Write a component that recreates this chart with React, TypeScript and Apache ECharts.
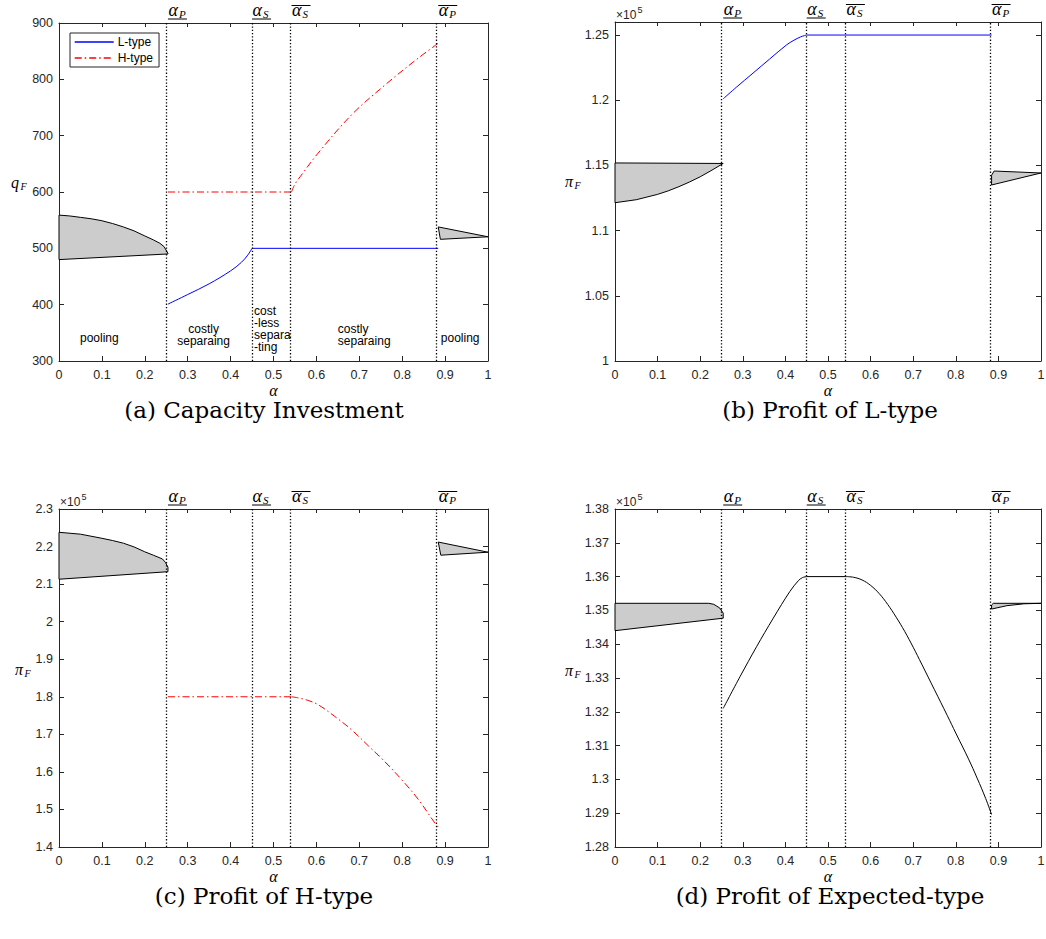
import { useEffect, useRef } from 'react';
import * as echarts from 'echarts';

type Pt = [number, number];

// α thresholds between equilibrium regimes: α_P, α_S, ᾱ_S, ᾱ_P
const alphaBounds = [0.254, 0.45, 0.542, 0.884];
const boundSubscripts = ['P', 'S', 'S', 'P'];
const boundBars = ['under', 'under', 'over', 'over'];

// shared α axis
const alphaMin = 0;
const alphaMax = 1;
const alphaStep = 0.1;

// (a) capacity investment q_F
const capRange = { min: 300, max: 900, step: 100 };
const capPoolLeftUpper: Pt[] = [[0, 559], [0.025, 557.5], [0.05, 555], [0.075, 552.5], [0.1, 549], [0.125, 544], [0.15, 538], [0.175, 531], [0.2, 522], [0.22, 515], [0.235, 509], [0.245, 503], [0.254, 491]];
const capPoolLeftLower: Pt[] = [[0, 480], [0.254, 490]];
const capPoolRightUpper: Pt[] = [[0.884, 538], [1, 520.5]];
const capPoolRightLower: Pt[] = [[0.889, 516], [1, 520.5]];
const capLRise: Pt[] = [[0.254, 401], [0.3, 418], [0.35, 437], [0.4, 460], [0.425, 475], [0.44, 488], [0.45, 500]];
const capLFlat: Pt[] = [[0.45, 500], [0.884, 500]];
const capHFlat: Pt[] = [[0.254, 600], [0.542, 600]];
const capHRise: Pt[] = [[0.542, 600], [0.55, 614], [0.562, 627], [0.604, 669], [0.682, 737], [0.76, 790], [0.838, 838], [0.884, 864]];

// regime notes inside panel (a)
const regimeNotes = ['pooling', 'costly\nseparaing', 'cost\n-less\nsepara\n-ting', 'costly\nseparaing', 'pooling'];
const regimeNoteAt: Pt[] = [[0.049, 340], [0.337, 347], [0.4545, 356], [0.65, 347], [0.89, 340]];
const regimeNoteAlign = ['left', 'center', 'left', 'left', 'left'];

// (b) profit of the L-type
const piLRange = { min: 100000, max: 126000, step: 5000 };
const piLPoolLeftUpper: Pt[] = [[0, 115190], [0.254, 115150]];
const piLPoolLeftLower: Pt[] = [[0, 112140], [0.05, 112370], [0.1, 112780], [0.125, 113050], [0.15, 113370], [0.175, 113730], [0.2, 114130], [0.225, 114590], [0.254, 115150]];
const piLPoolRightUpper: Pt[] = [[0.884, 114250], [0.89, 114570], [1, 114420]];
const piLPoolRightLower: Pt[] = [[0.884, 113500], [1, 114420]];
const piLRise: Pt[] = [[0.254, 120110], [0.285, 121000], [0.324, 122080], [0.363, 123160], [0.403, 124250], [0.42, 124600], [0.435, 124850], [0.445, 124960], [0.45, 125000]];
const piLFlat: Pt[] = [[0.45, 125000], [0.884, 125000]];

// (c) profit of the H-type
const piHRange = { min: 140000, max: 230000, step: 10000 };
const piHPoolLeftUpper: Pt[] = [[0, 223800], [0.05, 223300], [0.1, 222200], [0.125, 221600], [0.15, 220900], [0.175, 219900], [0.2, 218600], [0.22, 217700], [0.241, 216700], [0.248, 215800], [0.254, 214500]];
const piHPoolLeftLower: Pt[] = [[0, 211300], [0.254, 213300]];
const piHPoolRightUpper: Pt[] = [[0.884, 221200], [1, 218500]];
const piHPoolRightLower: Pt[] = [[0.89, 217700], [1, 218500]];
const piHFlat: Pt[] = [[0.254, 180000], [0.542, 180000]];
const piHFall: Pt[] = [[0.542, 180000], [0.558, 179700], [0.58, 179050], [0.604, 177900], [0.643, 174750], [0.682, 171200], [0.721, 166950], [0.76, 162650], [0.799, 157900], [0.838, 152600], [0.876, 146400], [0.884, 145300]];

// (d) profit of the expected type
const piERange = { min: 128000, max: 138000, step: 1000 };
const piEPoolLeftUpper: Pt[] = [[0, 135210], [0.22, 135210], [0.232, 135180], [0.246, 135070], [0.254, 134920]];
const piEPoolLeftLower: Pt[] = [[0, 134400], [0.254, 134770]];
const piEPoolRightUpper: Pt[] = [[0.884, 135160], [0.888, 135210], [1, 135210]];
const piEPoolRightLower: Pt[] = [[0.884, 135040], [0.92, 135140], [0.96, 135195], [1, 135210]];
const piERise: Pt[] = [[0.254, 132100], [0.2935, 133040], [0.3325, 133930], [0.3715, 134770], [0.4105, 135560], [0.4305, 135880], [0.44, 135970], [0.45, 136000]];
const piEFlat: Pt[] = [[0.45, 136000], [0.542, 136000]];
const piEFall: Pt[] = [[0.542, 136000], [0.56, 135980], [0.58, 135900], [0.6, 135740], [0.62, 135500], [0.64, 135180], [0.66, 134800], [0.68, 134380], [0.7, 133910], [0.72, 133410], [0.75, 132650], [0.78, 131890], [0.8, 131370], [0.83, 130600], [0.85, 130040], [0.87, 129440], [0.884, 128960]];

const AXIS = '#262626';
const BLUE = '#0000ff';
const RED = '#ff0000';
const DASHDOT = [7, 3, 1.5, 3];

const sciLabel = (v: number) => String(parseFloat((v / 1e5).toFixed(4)));

const panels = [
  { rect: { left: 59, top: 23, width: 429, height: 338 }, range: capRange, fmt: (v: number) => String(v), sci: false, yName: 'q', yNameAt: [11, 182], caption: '(a) Capacity Investment', captionAt: [264, 410] },
  { rect: { left: 615, top: 22, width: 426, height: 339 }, range: piLRange, fmt: (v: number) => (v > 125000 ? '' : sciLabel(v)), sci: true, yName: 'π', yNameAt: [565, 181], caption: '(b) Profit of L-type', captionAt: [830, 410] },
  { rect: { left: 59, top: 509, width: 429, height: 338 }, range: piHRange, fmt: sciLabel, sci: true, yName: 'π', yNameAt: [15, 669], caption: '(c) Profit of H-type', captionAt: [264, 896] },
  { rect: { left: 615, top: 509, width: 426, height: 338 }, range: piERange, fmt: sciLabel, sci: true, yName: 'π', yNameAt: [565, 670], caption: '(d) Profit of Expected-type', captionAt: [830, 896] },
];

function region(gi: number, upper: Pt[], lower: Pt[]) {
  const outline = upper.concat(lower.slice().reverse());
  return {
    type: 'custom',
    xAxisIndex: 2 * gi,
    yAxisIndex: 2 * gi,
    data: [upper[0]],
    silent: true,
    z: 3,
    renderItem: (_params: any, api: any) => ({
      type: 'polygon',
      shape: { points: outline.map((p) => api.coord(p)) },
      style: { fill: '#cccccc', stroke: '#000000', lineWidth: 1 },
    }),
  };
}

function curve(gi: number, name: string, data: Pt[], color: string, dash: any, smooth: number | boolean, withBounds = false) {
  const s: any = {
    type: 'line',
    name,
    xAxisIndex: 2 * gi,
    yAxisIndex: 2 * gi,
    data,
    symbol: 'none',
    showSymbol: false,
    smooth,
    silent: true,
    z: 4,
    lineStyle: { color, width: 1, type: dash },
    itemStyle: { color },
  };
  if (withBounds) {
    s.markLine = {
      silent: true,
      symbol: ['none', 'none'],
      label: { show: false },
      lineStyle: { color: '#000000', width: 1.3, type: [1.3, 2] },
      data: alphaBounds.map((a) => ({ xAxis: a })),
    };
  }
  return s;
}

export default function App() {
  const ref = useRef<HTMLDivElement>(null);

  useEffect(() => {
    if (!ref.current) return;
    const chart = echarts.init(ref.current, null, { renderer: 'svg' });

    const grid = panels.map((p) => ({ ...p.rect, outerBoundsMode: 'none', containLabel: false }));
    const xAxis: any[] = [];
    const yAxis: any[] = [];
    panels.forEach((p, gi) => {
      const common = { type: 'value', gridIndex: gi, min: alphaMin, max: alphaMax, interval: alphaStep, splitLine: { show: false } };
      xAxis.push({
        ...common,
        position: 'bottom',
        axisLine: { show: true, onZero: false, lineStyle: { color: AXIS, width: 1 } },
        axisTick: { show: true, inside: true, length: 5, lineStyle: { color: AXIS } },
        axisLabel: { show: true, margin: 7, color: AXIS, fontSize: 12.5, fontFamily: 'Liberation Sans' },
        name: 'α',
        nameLocation: 'middle',
        nameGap: 21,
        nameTextStyle: { fontFamily: 'Liberation Serif', fontStyle: 'italic', fontSize: 16, color: '#000' },
      });
      xAxis.push({
        ...common,
        position: 'top',
        axisLine: { show: true, onZero: false, lineStyle: { color: AXIS, width: 1 } },
        axisTick: { show: true, inside: true, length: 4, lineStyle: { color: AXIS } },
        axisLabel: { show: false },
      });
      const yc = { type: 'value', gridIndex: gi, min: p.range.min, max: p.range.max, interval: p.range.step, splitLine: { show: false } };
      yAxis.push({
        ...yc,
        position: 'left',
        axisLine: { show: true, onZero: false, lineStyle: { color: AXIS, width: 1 } },
        axisTick: { show: true, inside: true, length: 5, lineStyle: { color: AXIS } },
        axisLabel: { show: true, margin: 6, color: AXIS, fontSize: 12.5, fontFamily: 'Liberation Sans', formatter: p.fmt },
      });
      yAxis.push({
        ...yc,
        position: 'right',
        axisLine: { show: true, onZero: false, lineStyle: { color: AXIS, width: 1 } },
        axisTick: { show: true, inside: true, length: 5, lineStyle: { color: AXIS } },
        axisLabel: { show: false },
      });
    });

    const series: any[] = [
      // (a)
      region(0, capPoolLeftUpper, capPoolLeftLower),
      region(0, capPoolRightUpper, capPoolRightLower),
      curve(0, 'L-type', capLRise, BLUE, 'solid', 0.35, true),
      curve(0, 'L-type', capLFlat, BLUE, 'solid', false),
      curve(0, 'H-type', capHFlat, RED, DASHDOT, false),
      curve(0, 'H-type', capHRise, RED, DASHDOT, 0.35),
      // (b)
      region(1, piLPoolLeftUpper, piLPoolLeftLower),
      region(1, piLPoolRightUpper, piLPoolRightLower),
      curve(1, 'L-type profit', piLRise, BLUE, 'solid', 0.35, true),
      curve(1, 'L-type profit', piLFlat, BLUE, 'solid', false),
      // (c)
      region(2, piHPoolLeftUpper, piHPoolLeftLower),
      region(2, piHPoolRightUpper, piHPoolRightLower),
      curve(2, 'H-type profit', piHFlat, RED, DASHDOT, false, true),
      curve(2, 'H-type profit', piHFall, RED, DASHDOT, 0.35),
      // (d)
      region(3, piEPoolLeftUpper, piEPoolLeftLower),
      region(3, piEPoolRightUpper, piEPoolRightLower),
      curve(3, 'Expected profit', piERise, '#000000', 'solid', 0.35, true),
      curve(3, 'Expected profit', piEFlat, '#000000', 'solid', false),
      curve(3, 'Expected profit', piEFall, '#000000', 'solid', 0.4),
    ];

    chart.setOption({
      animation: false,
      backgroundColor: '#ffffff',
      grid,
      xAxis,
      yAxis,
      legend: {
        data: ['L-type', 'H-type'],
        orient: 'vertical',
        left: 70,
        top: 33,
        padding: [3, 6, 3, 4],
        itemGap: 4,
        itemWidth: 39,
        itemHeight: 12,
        backgroundColor: '#ffffff',
        borderColor: AXIS,
        borderWidth: 1,
        borderRadius: 0,
        selectedMode: false,
        itemStyle: { opacity: 0 },
        lineStyle: { width: 1.4 },
        textStyle: { fontFamily: 'Liberation Sans', fontSize: 12, color: '#000', padding: [0, 0, 0, -1] },
      },
      series,
    });

    // annotations placed through the axes' own scales
    const gfx: any[] = [];
    panels.forEach((p, gi) => {
      const finder = { xAxisIndex: 2 * gi, yAxisIndex: 2 * gi };
      const top = p.rect.top;
      alphaBounds.forEach((a, j) => {
        const px = (chart.convertToPixel(finder, [a, p.range.min]) as number[])[0];
        gfx.push({
          type: 'text', x: px + 0.5, y: top - 13, silent: true,
          style: { text: 'α', fontFamily: 'Liberation Serif', fontStyle: 'italic', fontSize: 18, fill: '#000', align: 'left', verticalAlign: 'middle' },
        });
        gfx.push({
          type: 'text', x: px + 11, y: top - 9.5, silent: true,
          style: { text: boundSubscripts[j], fontFamily: 'Liberation Serif', fontStyle: 'italic', fontSize: 11, fill: '#000', align: 'left', verticalAlign: 'middle' },
        });
        const ly = boundBars[j] === 'under' ? top - 4 : top - 17.5;
        gfx.push({ type: 'line', silent: true, shape: { x1: px, y1: ly, x2: px + 19, y2: ly }, style: { stroke: '#000', lineWidth: 1 } });
      });
      if (p.sci) {
        gfx.push({
          type: 'text', x: p.rect.left + 1, y: top - 7.5, silent: true,
          style: { text: '×10', fontFamily: 'Liberation Sans', fontSize: 12, fill: AXIS, align: 'left', verticalAlign: 'middle' },
        });
        gfx.push({
          type: 'text', x: p.rect.left + 22.5, y: top - 12.5, silent: true,
          style: { text: '5', fontFamily: 'Liberation Sans', fontSize: 9, fill: AXIS, align: 'left', verticalAlign: 'middle' },
        });
      }
      gfx.push({
        type: 'text', x: p.yNameAt[0], y: p.yNameAt[1], silent: true,
        style: { text: p.yName, fontFamily: 'Liberation Serif', fontStyle: 'italic', fontSize: 16, fill: '#000', align: 'left', verticalAlign: 'middle' },
      });
      gfx.push({
        type: 'text', x: p.yNameAt[0] + 9.5, y: p.yNameAt[1] + 4.5, silent: true,
        style: { text: 'F', fontFamily: 'Liberation Serif', fontStyle: 'italic', fontSize: 10, fill: '#000', align: 'left', verticalAlign: 'middle' },
      });
      gfx.push({
        type: 'text', x: p.captionAt[0], y: p.captionAt[1], silent: true,
        style: { text: p.caption, fontFamily: 'DejaVu Serif', fontSize: 23, fill: '#000', align: 'center', verticalAlign: 'middle' },
      });
    });
    regimeNotes.forEach((t, k) => {
      const [x, y] = chart.convertToPixel({ xAxisIndex: 0, yAxisIndex: 0 }, regimeNoteAt[k]) as number[];
      gfx.push({
        type: 'text', x, y, silent: true, z: 10,
        style: { text: t, fontFamily: 'Liberation Sans', fontSize: 12, lineHeight: 12, fill: '#000', align: regimeNoteAlign[k], verticalAlign: 'middle' },
      });
    });
    chart.setOption({ graphic: gfx });

    return () => chart.dispose();
  }, []);

  return <div ref={ref} style={{ position: 'fixed', left: 0, top: 0, width: 1046, height: 939, background: '#fff' }} />;
}
